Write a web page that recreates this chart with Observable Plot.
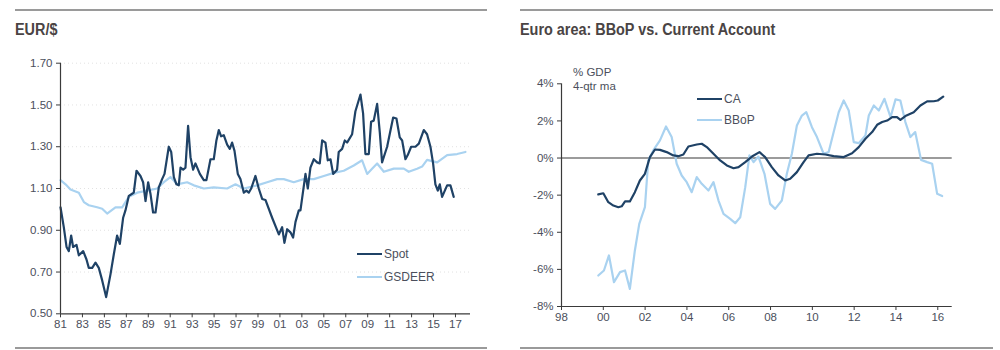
<!DOCTYPE html>
<html>
<head>
<meta charset="utf-8">
<script src="https://cdn.jsdelivr.net/npm/d3@7"></script>
<script src="https://cdn.jsdelivr.net/npm/@observablehq/plot@0.6"></script>
<style>
  html, body { margin: 0; padding: 0; background: #fff; }
  body { width: 1000px; height: 350px; position: relative; overflow: hidden; font-family: "Liberation Sans", Arial, sans-serif; }
  .rule { position: absolute; height: 0; border-top: 2px solid #9a9a9a; }
  .title { position: absolute; font-family: "Liberation Sans", Arial, sans-serif; font-weight: bold; font-size: 16px; color: #4a4444; white-space: nowrap; transform: scaleX(0.9); transform-origin: left top; }
  .plot { position: absolute; top: 40px; }
  .legend { position: absolute; font-size: 12px; color: #4b4f5c; }
  .legend .item { position: absolute; white-space: nowrap; display: flex; align-items: center; }
  .legend .sw { display: inline-block; width: 25px; height: 0; margin-right: 2px; }
  .note { position: absolute; font-size: 11.5px; color: #4b4f5c; line-height: 14px; }
</style>
</head>
<body>
<div class="rule" style="left:15px; width:472px; top:9px;"></div>
<div class="rule" style="left:520px; width:473px; top:9px;"></div>
<div class="rule" style="left:15px; width:472px; top:347px;"></div>
<div class="rule" style="left:520px; width:473px; top:347px;"></div>
<div class="title" style="left:15px; top:21px;">EUR/$</div>
<div class="title" style="left:520px; top:21px;">Euro area: BBoP vs. Current Account</div>
<div id="left" class="plot" style="left:0px;"></div>
<div id="right" class="plot" style="left:500px;"></div>
<div class="note" style="left:573px; top:65px;">% GDP<br>4-qtr ma</div>
<div class="legend" id="legL"></div>
<div class="legend" id="legR"></div>
<script>
// ---------- Data: EUR/$ ----------
const spotYear = [1981.00,1981.30,1981.55,1981.76,1981.97,1982.15,1982.46,1982.67,1983.07,1983.37,1983.58,1983.89,1984.19,1984.49,1984.80,1985.16,1985.56,1985.86,1986.16,1986.41,1986.71,1986.92,1987.23,1987.53,1987.68,1987.93,1988.29,1988.53,1988.75,1988.99,1989.20,1989.44,1989.66,1989.96,1990.26,1990.48,1990.87,1991.09,1991.33,1991.57,1991.78,1991.94,1992.18,1992.39,1992.63,1992.85,1993.09,1993.30,1993.70,1994.06,1994.30,1994.67,1994.97,1995.21,1995.43,1995.64,1995.88,1996.19,1996.43,1996.64,1996.86,1997.16,1997.40,1997.71,1997.95,1998.16,1998.38,1998.77,1999.07,1999.38,1999.68,2000.29,2000.90,2001.20,2001.41,2001.66,2001.96,2002.20,2002.42,2002.72,2002.87,2003.33,2003.54,2003.78,2004.09,2004.39,2004.63,2004.85,2005.15,2005.36,2005.61,2005.85,2006.21,2006.36,2006.67,2006.91,2007.12,2007.58,2007.88,2008.34,2008.58,2008.79,2009.10,2009.31,2009.55,2009.86,2010.10,2010.31,2010.77,2011.32,2011.62,2011.92,2012.14,2012.44,2012.65,2012.96,2013.35,2013.66,2014.11,2014.41,2014.72,2014.96,2015.17,2015.39,2015.57,2015.78,2016.24,2016.54,2016.84];
const spotValue = [1.01,0.915,0.82,0.80,0.875,0.82,0.83,0.78,0.80,0.76,0.72,0.72,0.745,0.72,0.66,0.58,0.69,0.785,0.875,0.835,0.96,0.995,1.065,1.075,1.08,1.185,1.16,1.13,1.04,1.13,1.075,0.985,0.985,1.105,1.145,1.17,1.30,1.275,1.155,1.12,1.115,1.20,1.19,1.20,1.40,1.25,1.19,1.22,1.17,1.14,1.14,1.24,1.24,1.33,1.38,1.35,1.355,1.31,1.29,1.32,1.28,1.17,1.145,1.08,1.09,1.08,1.10,1.16,1.10,1.05,1.045,0.96,0.88,0.915,0.84,0.905,0.89,0.865,0.94,0.995,0.995,1.17,1.10,1.20,1.24,1.225,1.22,1.33,1.32,1.235,1.24,1.17,1.19,1.275,1.29,1.33,1.32,1.36,1.47,1.55,1.46,1.265,1.265,1.42,1.425,1.505,1.37,1.225,1.30,1.44,1.435,1.345,1.33,1.24,1.26,1.30,1.30,1.315,1.38,1.36,1.30,1.22,1.12,1.09,1.12,1.06,1.115,1.115,1.06];
const gsdeerYear = [1981.00,1981.46,1981.91,1982.67,1983.13,1983.58,1984.34,1984.80,1985.25,1986.01,1986.62,1987.23,1987.99,1988.90,1989.81,1990.42,1991.02,1991.63,1992.54,1993.15,1994.06,1994.97,1996.19,1996.95,1997.71,1998.92,1999.83,2000.74,2001.35,2002.26,2003.17,2004.09,2005.00,2005.91,2006.82,2007.73,2008.49,2008.95,2009.40,2009.86,2010.47,2011.38,2012.29,2012.74,2013.50,2013.96,2014.41,2015.33,2016.24,2017.15,2017.91];
const gsdeerValue = [1.14,1.12,1.095,1.08,1.035,1.02,1.01,1.003,0.98,1.01,1.01,1.06,1.08,1.09,1.10,1.13,1.155,1.12,1.13,1.115,1.10,1.105,1.10,1.12,1.10,1.115,1.13,1.145,1.145,1.13,1.145,1.145,1.16,1.175,1.185,1.21,1.235,1.17,1.195,1.22,1.18,1.195,1.195,1.18,1.195,1.205,1.237,1.225,1.26,1.265,1.275];
const leftYTicks = [0.5, 0.7, 0.9, 1.1, 1.3, 1.5, 1.7];
const leftXTicks = d3.range(1981, 2018, 2);
const leftSeries = ["Spot", "GSDEER"];

// ---------- Data: Euro area ----------
const caYear = [1999.76,2000.00,2000.24,2000.48,2000.72,2000.88,2001.04,2001.27,2001.51,2001.75,2001.99,2002.23,2002.47,2002.71,2003.03,2003.35,2003.59,2003.83,2004.07,2004.47,2004.71,2004.95,2005.27,2005.59,2005.91,2006.23,2006.47,2006.79,2007.11,2007.47,2007.74,2008.06,2008.38,2008.70,2008.94,2009.26,2009.58,2009.82,2010.22,2010.62,2011.02,2011.50,2011.90,2012.22,2012.54,2012.86,2013.10,2013.34,2013.58,2013.82,2014.05,2014.21,2014.45,2014.85,2015.17,2015.49,2015.81,2016.00,2016.26];
const caValue = [-1.96,-1.90,-2.38,-2.56,-2.65,-2.60,-2.34,-2.34,-1.84,-1.21,-0.85,0.05,0.46,0.44,0.32,0.14,0.10,0.19,0.62,0.73,0.77,0.59,0.23,-0.13,-0.40,-0.55,-0.49,-0.22,0.08,0.32,0.05,-0.49,-0.94,-1.21,-1.12,-0.76,-0.22,0.14,0.23,0.19,0.10,0.05,0.26,0.59,1.04,1.40,1.79,1.94,2.02,2.20,2.20,2.06,2.26,2.47,2.83,3.05,3.06,3.10,3.31];
const bbopYear = [1999.76,2000.03,2000.27,2000.51,2000.80,2001.04,2001.27,2001.51,2001.72,2001.99,2002.15,2002.39,2002.71,2003.00,2003.27,2003.51,2003.75,2003.99,2004.23,2004.47,2004.71,2005.03,2005.27,2005.51,2005.75,2006.07,2006.31,2006.55,2006.79,2006.99,2007.19,2007.42,2007.71,2007.98,2008.22,2008.54,2008.78,2009.02,2009.26,2009.50,2009.71,2009.98,2010.22,2010.54,2010.78,2011.02,2011.26,2011.50,2011.74,2011.98,2012.22,2012.54,2012.70,2012.94,2013.18,2013.45,2013.74,2013.98,2014.21,2014.45,2014.69,2014.92,2015.20,2015.49,2015.73,2015.97,2016.21];
const bbopValue = [-6.33,-6.06,-5.25,-6.69,-6.15,-6.06,-7.05,-4.98,-3.55,-2.65,-0.13,0.41,0.95,1.70,1.13,-0.31,-0.94,-1.30,-1.84,-1.03,-1.39,-1.75,-1.30,-2.29,-3.01,-3.28,-3.51,-3.19,-1.57,0.14,-0.22,0.08,-0.85,-2.47,-2.74,-2.29,-0.85,0.23,1.75,2.29,2.47,1.66,1.13,0.23,0.32,1.40,2.47,3.10,2.56,0.86,0.80,1.22,2.29,2.83,2.56,3.19,2.20,3.16,3.10,1.94,1.13,1.40,-0.10,-0.22,-0.31,-1.93,-2.05];
const rightYTicks = [-8, -6, -4, -2, 0, 2, 4];
const rightXTicks = d3.range(1998, 2017, 2);
const rightSeries = ["CA", "BBoP"];

// ---------- Styles ----------
const DARK = "#1f4266";
const LIGHT = "#a9d2f0";
const TICKCOL = "#4b4f5c";
const AXISCOL = "#3a3a3a";
const yy = d => String(d % 100).padStart(2, "0");

const spot = spotYear.map((x, i) => ({x, y: spotValue[i]}));
const gsdeer = gsdeerYear.map((x, i) => ({x, y: gsdeerValue[i]}));
const ca = caYear.map((x, i) => ({x, y: caValue[i]}));
const bbop = bbopYear.map((x, i) => ({x, y: bbopValue[i]}));

const common = {
  style: {fontFamily: "'Liberation Sans', Arial, sans-serif", fontSize: "11.5px", color: TICKCOL, background: "transparent", overflow: "visible"}
};

const left = Plot.plot({
  ...common,
  width: 490, height: 300,
  marginLeft: 60, marginRight: 20, marginTop: 22.7, marginBottom: 26.7,
  x: {domain: [1981, 2018.37]},
  y: {domain: [0.5, 1.7]},
  marks: [
    Plot.ruleY(leftYTicks.slice(1), {stroke: "#e2e2e2", strokeDasharray: "1,3", strokeWidth: 1}),
    Plot.line(gsdeer, {x: "x", y: "y", stroke: LIGHT, strokeWidth: 2.2}),
    Plot.line(spot, {x: "x", y: "y", stroke: DARK, strokeWidth: 2.2}),
    Plot.axisY({ticks: leftYTicks, tickFormat: d3.format(".2f"), tickSize: 4, tickPadding: 4, stroke: AXISCOL, fill: TICKCOL, label: null}),
    Plot.axisX({ticks: leftXTicks, tickFormat: yy, tickSize: 4, tickPadding: 2, stroke: AXISCOL, fill: TICKCOL, label: null}),
    Plot.ruleX([1981], {stroke: AXISCOL, strokeWidth: 1.2}),
    Plot.ruleY([0.5], {stroke: AXISCOL, strokeWidth: 1.2})
  ]
});
document.getElementById("left").appendChild(left);

const right = Plot.plot({
  ...common,
  width: 500, height: 300,
  marginLeft: 61, marginRight: 48.3, marginTop: 43.3, marginBottom: 34,
  x: {domain: [1998, 2016.69]},
  y: {domain: [-8, 4]},
  marks: [
    Plot.ruleY([0], {stroke: "#7a7a7a", strokeWidth: 1.6}),
    Plot.line(bbop, {x: "x", y: "y", stroke: LIGHT, strokeWidth: 2.2}),
    Plot.line(ca, {x: "x", y: "y", stroke: DARK, strokeWidth: 2.2}),
    Plot.axisY({ticks: rightYTicks, tickFormat: d => d + "%", tickSize: 4, tickPadding: 4, stroke: AXISCOL, fill: TICKCOL, label: null}),
    Plot.axisX({ticks: rightXTicks, tickFormat: yy, tickSize: 4, tickPadding: 2, stroke: AXISCOL, fill: TICKCOL, label: null}),
    Plot.ruleX([1998], {stroke: AXISCOL, strokeWidth: 1.2}),
    Plot.ruleY([-8], {stroke: AXISCOL, strokeWidth: 1.2})
  ]
});
document.getElementById("right").appendChild(right);

// ---------- Legends ----------
function legend(el, names, colors, left, top, gap) {
  names.forEach((n, i) => {
    const d = document.createElement("div");
    d.className = "item";
    d.style.left = left + "px";
    d.style.top = (top + i * gap) + "px";
    d.innerHTML = `<span class="sw" style="border-top:2.5px solid ${colors[i]}"></span><span>${n}</span>`;
    el.appendChild(d);
  });
}
legend(document.getElementById("legL"), leftSeries, [DARK, LIGHT], 357, 247, 23);
legend(document.getElementById("legR"), rightSeries, [DARK, LIGHT], 697, 92, 21);
</script>
</body>
</html>
